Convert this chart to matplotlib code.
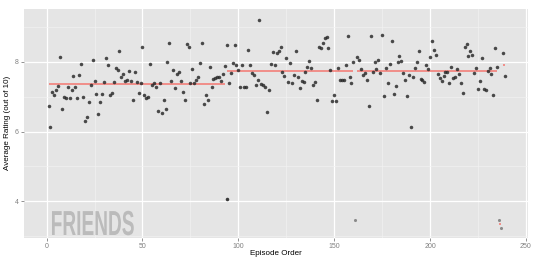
import matplotlib
matplotlib.use("Agg")
import matplotlib.pyplot as plt
import matplotlib.patheffects as pe
from matplotlib.transforms import Affine2D

# ---------------- data ----------------
ep_a = list(range(1, 161))
rating_a = [
    6.74, 6.14, 7.12, 7.05, 7.19, 7.31, 8.14, 6.65, 7.00, 6.95,
    7.27, 6.96, 7.19, 7.58, 7.29, 6.95, 7.63, 7.94, 7.00, 6.29,
    6.41, 6.85, 7.32, 8.05, 7.46, 7.07, 6.51, 6.84, 7.07, 7.41,
    8.12, 7.92, 7.05, 7.09, 7.41, 7.82, 7.76, 8.30, 7.55, 7.65,
    7.44, 7.49, 7.74, 7.45, 6.89, 7.70, 7.43, 7.09, 7.40, 8.43,
    7.05, 6.95, 7.00, 7.93, 7.34, 7.40, 7.27, 6.60, 7.38, 6.53,
    6.90, 6.64, 7.99, 8.55, 7.46, 7.76, 7.25, 7.65, 7.70, 7.45,
    7.13, 6.90, 8.51, 8.42, 7.40, 7.78, 7.40, 7.48, 7.55, 7.95,
    8.53, 6.79, 7.06, 6.89, 7.86, 7.28, 7.51, 7.52, 7.56, 7.55,
    7.45, 7.65, 7.88, 8.47, 7.39, 7.68, 7.97, 8.47, 7.90, 7.75,
    7.27, 7.90, 7.28, 7.28, 8.35, 7.92, 7.69, 7.63, 7.32, 7.48,
    9.20, 7.35, 7.33, 7.29, 6.56, 7.20, 7.93, 8.27, 7.90, 8.26,
    8.32, 8.43, 7.71, 7.59, 8.11, 7.42, 7.96, 7.38, 7.61, 8.32,
    7.55, 7.24, 7.46, 7.43, 7.70, 7.85, 8.02, 7.81, 7.34, 7.41,
    6.90, 8.41, 8.38, 8.55, 8.68, 8.71, 8.38, 7.76, 6.87, 7.06,
    6.87, 7.83, 7.49, 7.49, 7.49, 7.91, 8.74, 7.56, 7.40, 7.99,
]
ep_b = list(range(162, 236)) + [238, 239]
rating_b = [
    8.13, 8.06, 7.80, 7.63, 7.69, 7.49, 6.72, 8.74, 7.70, 8.00,
    7.80, 8.06, 7.67, 8.77, 7.01, 7.82, 7.38, 7.94, 8.59, 7.07,
    7.31, 7.98, 8.16, 8.03, 7.68, 7.48, 7.01, 7.61, 6.13, 7.57,
    7.83, 8.00, 8.32, 7.51, 7.49, 7.42, 7.91, 7.79, 8.13, 8.60,
    8.34, 8.18, 7.65, 7.54, 7.44, 7.58, 7.71, 7.70, 7.39, 7.86,
    7.54, 7.55, 7.78, 7.64, 7.39, 7.11, 8.41, 8.50, 8.15, 8.31,
    8.20, 7.68, 7.82, 7.23, 7.46, 8.11, 7.23, 7.20, 7.72, 7.81,
    7.65, 7.06, 8.39, 7.86,
    8.25, 7.58,
]
ep_extra = [94]
rating_extra = [4.07]
ep_low = [161, 236, 237]
rating_low = [3.48, 3.48, 3.24]

seg_start = [1, 94, 162, 238, 236]
seg_end = [93, 160, 235, 239, 237]
seg_mean = [7.36, 7.74, 7.72, 7.92, 3.36]

x_ticks = [0, 50, 100, 150, 200, 250]
y_ticks = [4, 6, 8]
x_label = "Episode Order"
y_label = "Average Rating (out of 10)"
watermark = "FRIENDS"

# ---------------- figure ----------------
plt.rcParams['font.family'] = ['Liberation Sans', 'DejaVu Sans']

W, H = 540, 260
fig = plt.figure(figsize=(W / 100, H / 100), dpi=100)
L, R, T, B = 24, 527.7, 9, 237.7
ax = fig.add_axes([L / W, 1 - B / H, (R - L) / W, (B - T) / H])
ax.set_facecolor('#E5E5E5')
for s in ax.spines.values():
    s.set_visible(False)

ax.set_xlim(-11.8, 250.9)
ax.set_ylim(2.96, 9.51)
ax.set_xticks(x_ticks)
ax.set_yticks(y_ticks)
ax.set_xticks([25, 75, 125, 175, 225], minor=True)
ax.set_yticks([3, 5, 7, 9], minor=True)
ax.grid(which='major', color='white', lw=0.9)
ax.grid(which='minor', color='#F3F3F3', lw=0.45)
ax.set_axisbelow(True)
ax.tick_params(which='major', length=2.2, width=0.6, color='#808080',
               labelsize=5, labelcolor='#808080', pad=1.8)
ax.tick_params(which='minor', length=0)

ax.hlines(seg_mean, seg_start, seg_end, color='#F4756E', lw=1.2, alpha=0.9, zorder=2)

ax.scatter(ep_a, rating_a, s=6.5, color='#262626', alpha=0.82, lw=0, zorder=3)
ax.scatter(ep_b, rating_b, s=6.5, color='#262626', alpha=0.82, lw=0, zorder=3)
ax.scatter(ep_extra, rating_extra, s=6.5, color='#262626', alpha=0.9, lw=0, zorder=3)
ax.scatter(ep_low, rating_low, s=5, color='#7a7a7a', alpha=0.85, lw=0, zorder=3)

ax.set_xlabel(x_label, fontsize=5.8, color='black')
ax.set_ylabel(y_label, fontsize=5.8, color='black')
ax.xaxis.set_label_coords(0.5, (B - 253.3) / (B - T))
ax.xaxis.label.set_va('center')
ax.yaxis.set_label_coords((8 - L) / (R - L), 0.5)
ax.yaxis.label.set_va('center')


class Squeeze(pe.AbstractPathEffect):
    def __init__(self, sx):
        super().__init__()
        self.sx = sx

    def draw_path(self, renderer, gc, tpath, affine, rgbFace=None):
        ox, oy = affine.transform((0, 0))
        aff = affine + Affine2D().translate(-ox, -oy).scale(self.sx, 1).translate(ox, oy)
        renderer.draw_path(gc, tpath, aff, rgbFace)


fig.text(50.7 / W, (H - 235) / H, watermark, fontsize=25, fontweight='bold',
         color='#BBBBBB', ha='left', va='baseline',
         path_effects=[Squeeze(0.55)])

fig.savefig('out.png', dpi=100)
